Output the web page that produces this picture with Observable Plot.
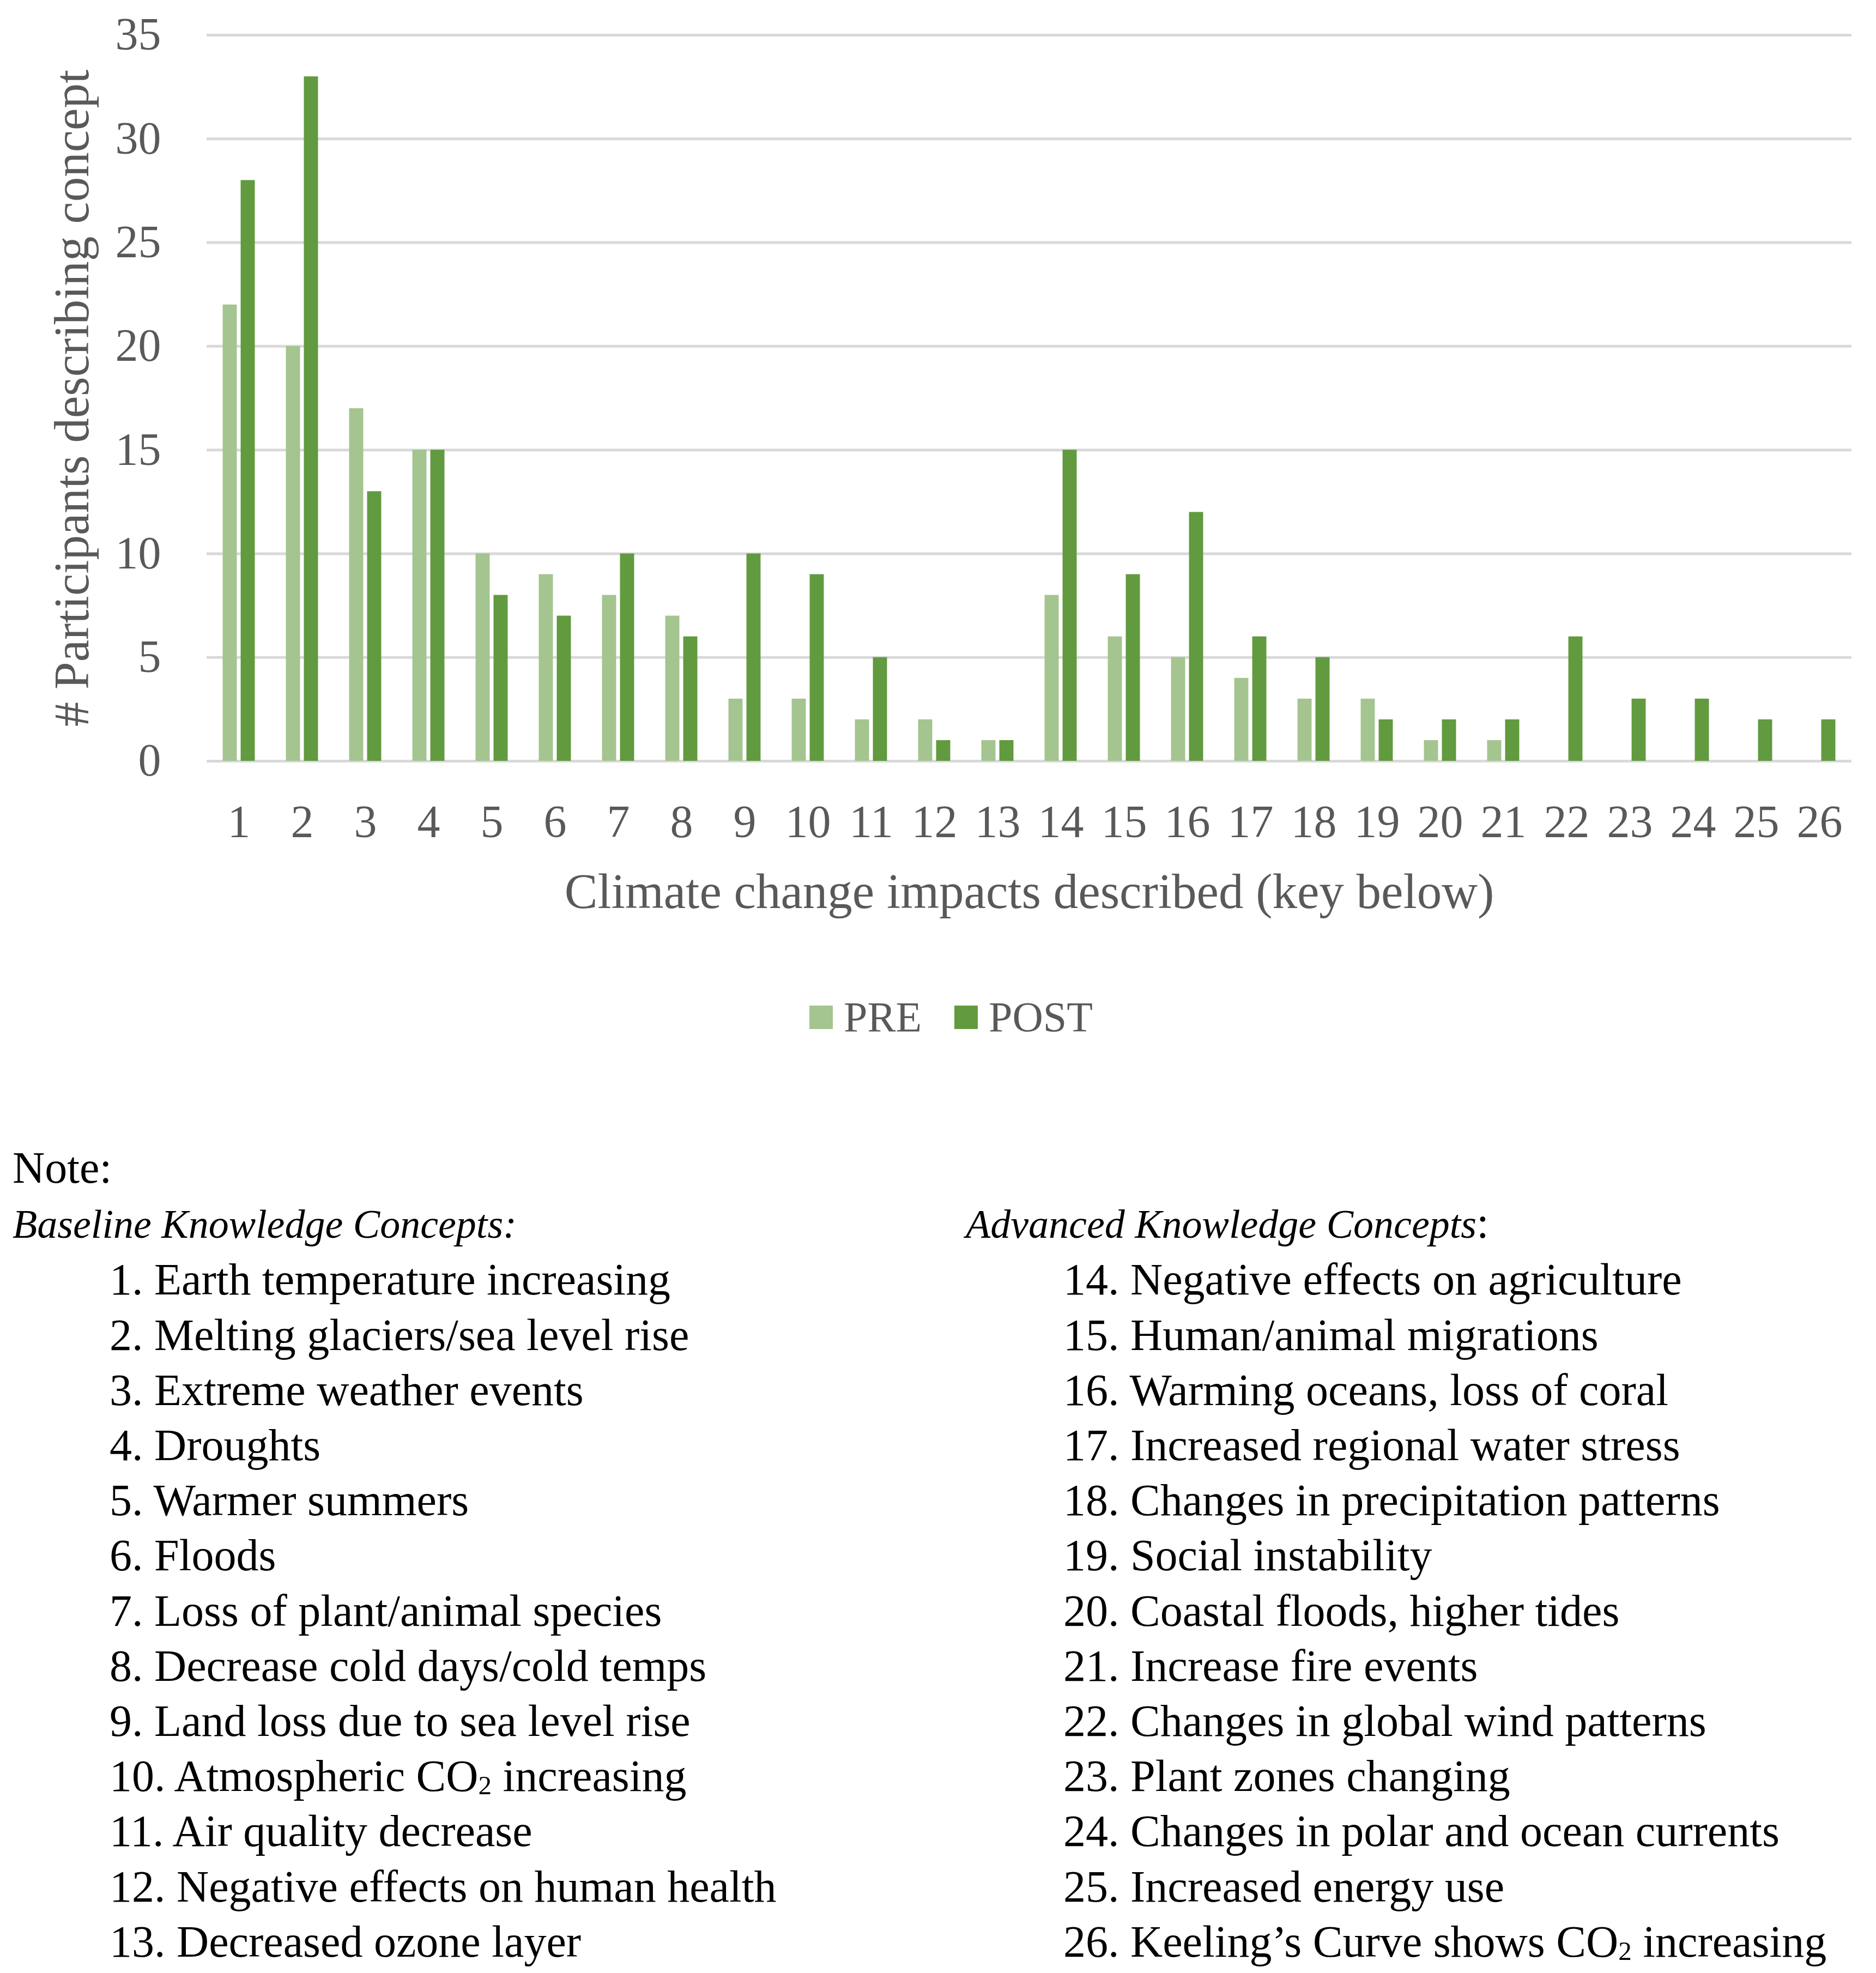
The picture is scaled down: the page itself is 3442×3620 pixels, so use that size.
<!DOCTYPE html>
<html>
<head>
<meta charset="utf-8">
<script src="https://cdn.jsdelivr.net/npm/d3@7"></script>
<script src="https://cdn.jsdelivr.net/npm/@observablehq/plot@0.6"></script>
<style>
  html, body { margin: 0; padding: 0; background: #ffffff; }
  #wrap { position: relative; width: 3442px; height: 3620px; font-family: 'Liberation Serif', serif; overflow: hidden; }
  #chart { position: absolute; left: 0; top: 0; }
  #legend { position: absolute; left: 1485px; top: 1827px; display: flex; align-items: center; font-size: 78px; line-height: 78px; color: #595959; white-space: nowrap; }
  #legend .item { display: flex; align-items: center; margin-right: 60px; }
  #legend .sw { width: 43px; height: 43px; margin-right: 20px; }
  .notecol { position: absolute; top: 2092px; font-size: 82px; line-height: 101.2px; color: #000; white-space: nowrap; }
  .notecol .it { font-style: italic; font-size: 74px; }
  .notecol sub { font-size: 0.6em; vertical-align: baseline; position: relative; top: 0.12em; line-height: 0; }
</style>
</head>
<body>
<div id="wrap">
  <div id="chart"></div>
  <div id="legend"></div>
  <div id="leftcol" class="notecol" style="left:23px;"></div>
  <div id="rightcol" class="notecol" style="left:1772px; top:2193.2px;"></div>
</div>
<script>
// ---- data ----
const categories = [1, 2, 3, 4, 5, 6, 7, 8, 9, 10, 11, 12, 13, 14, 15, 16, 17, 18, 19, 20, 21, 22, 23, 24, 25, 26];
const preValues  = [22, 20, 17, 15, 10, 9, 8, 7, 3, 3, 2, 2, 1, 8, 6, 5, 4, 3, 3, 1, 1, 0, 0, 0, 0, 0];
const postValues = [28, 33, 13, 15, 8, 7, 10, 6, 10, 9, 5, 1, 1, 15, 9, 12, 6, 5, 2, 2, 2, 6, 3, 3, 2, 2];
const seriesNames = ["PRE", "POST"];
const seriesColors = ["#A4C490", "#629A3F"];
const yTicks = [0, 5, 10, 15, 20, 25, 30, 35];
const xTitle = "Climate change impacts described (key below)";
const yTitle = "# Participants describing concept";
const noteLabel = "Note:";
const baselineHeading = "Baseline Knowledge Concepts:";
const advancedHeading = "Advanced Knowledge Concepts";
const baselineConcepts = [
  "1. Earth temperature increasing",
  "2. Melting glaciers/sea level rise",
  "3. Extreme weather events",
  "4. Droughts",
  "5. Warmer summers",
  "6. Floods",
  "7. Loss of plant/animal species",
  "8. Decrease cold days/cold temps",
  "9. Land loss due to sea level rise",
  "10. Atmospheric CO₂ increasing",
  "11. Air quality decrease",
  "12. Negative effects on human health",
  "13. Decreased ozone layer"
];
const advancedConcepts = [
  "14. Negative effects on agriculture",
  "15. Human/animal migrations",
  "16. Warming oceans, loss of coral",
  "17. Increased regional water stress",
  "18. Changes in precipitation patterns",
  "19. Social instability",
  "20. Coastal floods, higher tides",
  "21. Increase fire events",
  "22. Changes in global wind patterns",
  "23. Plant zones changing",
  "24. Changes in polar and ocean currents",
  "25. Increased energy use",
  "26. Keeling’s Curve shows CO₂ increasing"
];

// ---- chart ----
const rows = categories.map((c, i) => ({cat: c, pre: preValues[i], post: postValues[i]}));
const W = 3442, H = 1720;
const mL = 379, mR = 45, mT = 64, plotBottom = 1396;
const band = (W - mL - mR) / categories.length;
const barW = 26, barGap = 7;
const outer = (band - 2 * barW - barGap) / 2;
const textColor = "#595959";

const chart = Plot.plot({
  width: W,
  height: H,
  marginLeft: mL,
  marginRight: mR,
  marginTop: mT,
  marginBottom: H - plotBottom,
  style: {fontFamily: "'Liberation Serif', serif", fontSize: "84px", color: textColor, background: "transparent", overflow: "visible"},
  x: {domain: categories, padding: 0, tickSize: 0, tickPadding: 80, label: null},
  y: {domain: [0, 35], ticks: yTicks, tickSize: 0, tickPadding: 84, label: null},
  marks: [
    Plot.ruleY(yTicks, {stroke: "#D9D9D9", strokeWidth: 5}),
    Plot.barY(rows, {x: "cat", y: "pre", fill: seriesColors[0], insetLeft: outer, insetRight: outer + barW + barGap}),
    Plot.barY(rows, {x: "cat", y: "post", fill: seriesColors[1], insetLeft: outer + barW + barGap, insetRight: outer}),
    Plot.text([xTitle], {text: d => d, frameAnchor: "bottom", textAnchor: "middle", lineAnchor: "middle", dy: 240, fontSize: 91, fill: textColor}),
    Plot.text([yTitle], {text: d => d, frameAnchor: "left", textAnchor: "middle", lineAnchor: "middle", rotate: -90, dx: -247, fontSize: 91, fill: textColor})
  ]
});
document.getElementById("chart").appendChild(chart);

// ---- legend ----
const legend = document.getElementById("legend");
seriesNames.forEach((name, i) => {
  const item = document.createElement("div");
  item.className = "item";
  const sw = document.createElement("div");
  sw.className = "sw";
  sw.style.background = seriesColors[i];
  const label = document.createElement("span");
  label.textContent = name;
  item.appendChild(sw);
  item.appendChild(label);
  legend.appendChild(item);
});

// ---- key ----
function lineEl(text, indent, italic) {
  const d = document.createElement("div");
  if (indent) d.style.paddingLeft = indent + "px";
  const host = italic ? document.createElement("span") : d;
  if (italic) { host.className = "it"; d.appendChild(host); }
  const parts = text.split("₂");
  parts.forEach((p, j) => {
    host.appendChild(document.createTextNode(p));
    if (j < parts.length - 1) {
      const s = document.createElement("sub");
      s.textContent = "2";
      host.appendChild(s);
    }
  });
  return d;
}
const left = document.getElementById("leftcol");
left.appendChild(lineEl(noteLabel, 0, false));
left.appendChild(lineEl(baselineHeading, 0, true));
baselineConcepts.forEach(t => left.appendChild(lineEl(t, 178, false)));

const right = document.getElementById("rightcol");
const h = document.createElement("div");
const hi = document.createElement("span");
hi.className = "it";
hi.textContent = advancedHeading;
h.appendChild(hi);
h.appendChild(document.createTextNode(":"));
right.appendChild(h);
advancedConcepts.forEach(t => right.appendChild(lineEl(t, 179, false)));
</script>
</body>
</html>
